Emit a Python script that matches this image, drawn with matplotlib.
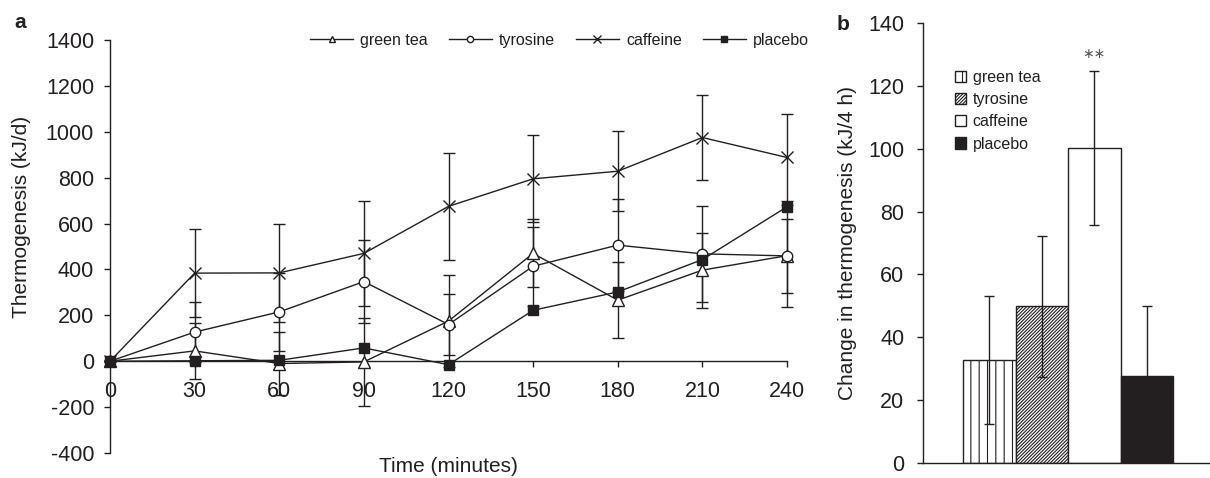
import matplotlib
matplotlib.use("Agg")
import matplotlib.pyplot as plt

plt.rcParams['font.family'] = ['Liberation Sans', 'DejaVu Sans']
plt.rcParams['hatch.linewidth'] = 0.8
plt.rcParams['axes.unicode_minus'] = False

INK = '#231f20'

# ---- Panel a data ----
time_min = [0, 30, 60, 90, 120, 150, 180, 210, 240]
green_tea = [0, 45, -10, -3, 175, 470, 266, 397, 460]
green_tea_err = [0, 122, 138, 192, 200, 148, 166, 163, 223]
tyrosine = [0, 127, 215, 347, 160, 414, 506, 468, 459]
tyrosine_err = [0, 132, 170, 180, 135, 172, 200, 210, 163]
caffeine = [0, 384, 385, 470, 675, 795, 828, 975, 888]
caffeine_err = [0, 192, 215, 229, 232, 190, 174, 184, 190]
placebo = [0, 2, 4, 58, -15, 222, 302, 443, 673]

y_ticks_a = [-400, -200, 0, 200, 400, 600, 800, 1000, 1200, 1400]
x_ticks_a = [0, 30, 60, 90, 120, 150, 180, 210, 240]

# ---- Panel b data ----
groups = ['green tea', 'tyrosine', 'caffeine', 'placebo']
change = [32.7, 49.8, 100.2, 27.7]
change_err = [20.3, 22.5, 24.5, 22.1]
y_ticks_b = [0, 20, 40, 60, 80, 100, 120, 140]

W, H = 1210, 478
fig = plt.figure(figsize=(W / 100, H / 100), dpi=100)

# ---------------- Panel a ----------------
ax1 = fig.add_axes([110 / W, 1 - 453 / H, 677 / W, 413 / H])
ax1.set_xlim(0, 240)
ax1.set_ylim(-400, 1400)
for s in ['top', 'right']:
    ax1.spines[s].set_visible(False)
ax1.spines['bottom'].set_position(('data', 0))
for s in ['left', 'bottom']:
    ax1.spines[s].set_color(INK)
    ax1.spines[s].set_linewidth(1.0)

series = [
    ('green tea', green_tea, green_tea_err, '^', 'white', 8),
    ('tyrosine', tyrosine, tyrosine_err, 'o', 'white', 7.5),
    ('caffeine', caffeine, caffeine_err, 'x', INK, 8.5),
    ('placebo', placebo, None, 's', INK, 6.5),
]
handles = []
for name, vals, err, mk, fc, ms in series:
    if err is not None:
        ax1.errorbar(time_min, vals, yerr=err, fmt='none', ecolor=INK,
                     elinewidth=1.0, capsize=4.5, capthick=1.0, zorder=2,
                     clip_on=False)
    ln, = ax1.plot(time_min, vals, color=INK, lw=1.0, marker=mk, ms=ms,
                   mfc=fc, mec=INK, mew=1.0, zorder=3, clip_on=False,
                   label=name)
    handles.append(ln)

ax1.set_xticks(x_ticks_a)
ax1.set_yticks(y_ticks_a)
ax1.tick_params(axis='both', direction='out', length=4.5, width=1.0,
                color=INK, labelcolor=INK, labelsize=15.5)
ax1.tick_params(axis='y', pad=7)
ax1.tick_params(axis='x', pad=10)
ax1.set_ylabel('Thermogenesis (kJ/d)', fontsize=15, color=INK)
ax1.yaxis.set_label_coords(-0.117, 0.571)
ax1.set_xlabel('Time (minutes)', fontsize=15, color=INK)
ax1.xaxis.set_label_coords(0.5, -0.01)

leg1 = ax1.legend(handles=handles, ncol=4, loc='upper left',
                  bbox_to_anchor=(310 / W, 1 - 33 / H),
                  bbox_transform=fig.transFigure, frameon=False,
                  fontsize=11.5, handlelength=2.7, handletextpad=0.45,
                  columnspacing=1.3, borderpad=0, borderaxespad=0,
                  markerscale=0.6)
for t in leg1.get_texts():
    t.set_color(INK)

fig.text(20 / W, 1 - 22 / H, 'a', fontsize=15, fontweight='bold',
         color=INK, ha='center', va='center')

# ---------------- Panel b ----------------
ax2 = fig.add_axes([923 / W, 1 - 463 / H, 287 / W, 440 / H])
xpos = list(range(len(groups)))
fills = ['white', 'white', 'white', INK]
hatches = ['||', '//////////', '', '']
bars = ax2.bar(xpos, change, width=1.0, color=fills, edgecolor=INK,
               linewidth=1.0, zorder=2)
for p, h in zip(bars.patches, hatches):
    p.set_hatch(h)
ax2.errorbar(xpos, change, yerr=change_err, fmt='none', ecolor=INK,
             elinewidth=1.0, capsize=3.8, capthick=1.0, zorder=3)
ax2.set_xlim(-1.26, 4.2)
ax2.set_ylim(0, 140)
ax2.set_yticks(y_ticks_b)
ax2.set_xticks([])
for s in ['top', 'right']:
    ax2.spines[s].set_visible(False)
for s in ['left', 'bottom']:
    ax2.spines[s].set_color(INK)
    ax2.spines[s].set_linewidth(1.0)
ax2.tick_params(axis='y', direction='out', length=4.5, width=1.0,
                color=INK, labelcolor=INK, labelsize=15.5, pad=9)
ax2.set_ylabel('Change in thermogenesis (kJ/4 h)', fontsize=15, color=INK)
ax2.yaxis.set_label_coords(-0.23, 0.5)

ax2.text(2, 130, '\u2217\u2217', ha='center', va='center', fontsize=10,
         color='#555555', family='DejaVu Sans')

leg2 = ax2.legend(bars.patches, groups, loc='upper left',
                  bbox_to_anchor=(955 / W, 1 - 70 / H),
                  bbox_transform=fig.transFigure, frameon=False,
                  fontsize=11.5, handlelength=0.7, handleheight=0.7,
                  handletextpad=0.4, labelspacing=0.45, borderpad=0,
                  borderaxespad=0)
for t in leg2.get_texts():
    t.set_color(INK)

fig.text(843 / W, 1 - 25 / H, 'b', fontsize=15, fontweight='bold',
         color=INK, ha='center', va='center')

fig.savefig('out.png', dpi=100)
